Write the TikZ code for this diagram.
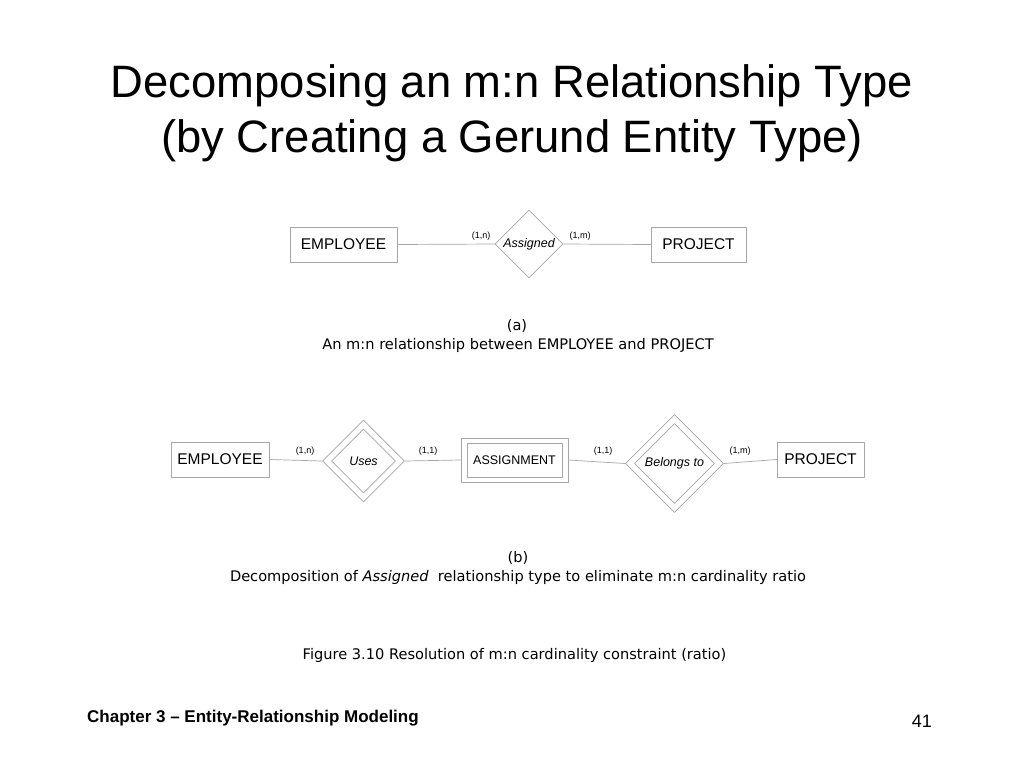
\documentclass[tikz,border=0pt]{standalone}
\usepackage{fontspec}
\setmainfont{Liberation Sans}
\newfontfamily\capfont{DejaVu Sans}
\usetikzlibrary{shapes.geometric,positioning}
\begin{document}
\begin{tikzpicture}[x=1pt, y=-1pt, line join=round, line cap=round,
  entity/.style={draw=gray!70, line width=0.7pt, minimum height=35, inner sep=0pt, font=\fontsize{15.5}{18}\selectfont},
  rel/.style={diamond, aspect=1, draw=gray!70, line width=0.7pt, inner sep=0pt, font=\fontsize{12.5}{15}\selectfont\itshape},
  card/.style={font=\fontsize{9}{11}\selectfont},
  link/.style={draw=gray!70, line width=0.7pt},
  capt/.style={anchor=base, inner sep=0pt, font=\capfont\fontsize{14.6}{17}\selectfont}]
\def\W{1024} \def\H{768}
\useasboundingbox[fill=white] (0,0) rectangle (\W,\H);
% title
\node[anchor=base, font=\fontsize{45.4}{52}\selectfont] (title1) at (512,97) {Decomposing an m:n Relationship Type};
\node[anchor=base, font=\fontsize{45.4}{52}\selectfont] (title2) at (512,152) {(by Creating a Gerund Entity Type)};
% (a)
\node[entity, minimum width=107] (emp1) at (343.5,244.5) {EMPLOYEE};
\node[rel, minimum size=68] (assigned) at (529,244) {Assigned};
\node[entity, minimum width=95] (proj1) at (698.5,244.5) {PROJECT};
\draw[link] (emp1.east)--(assigned.west) (assigned.east)--(proj1.west);
\node[card] (c1) at (481,236) {(1,n)};
\node[card] (c2) at (580,236) {(1,m)};
\node[capt] (capa) at (517,330) {(a)};
\node[capt] (capa2) at (518,349) {An m:n relationship between EMPLOYEE and PROJECT};
% (b)
\node[entity, minimum width=98] (emp2) at (220,459.5) {EMPLOYEE};
\node[rel, minimum size=82] (uses) at (363.5,461) {};
\node[rel, minimum size=64] (usesin) at (uses) {Uses};
\node[entity, minimum width=107, minimum height=44] (assign) at (514.5,460) {};
\node[entity, minimum width=95, minimum height=34, font=\fontsize{12.5}{15}\selectfont] (assignin) at (assign) {ASSIGNMENT};
\node[rel, minimum size=98] (belongs) at (674.5,463.5) {};
\node[rel, minimum size=80] (belongsin) at (belongs) {Belongs to};
\node[entity, minimum width=87] (proj2) at (820.5,459.5) {PROJECT};
\draw[link] (emp2.east)--(uses.west) (uses.east)--(assign.west)
  (assign.east)--(belongs.west) (belongs.east)--(proj2.west);
\node[card] (c3) at (305,451) {(1,n)};
\node[card] (c4) at (428,451) {(1,1)};
\node[card] (c5) at (603,451) {(1,1)};
\node[card] (c6) at (740,451) {(1,m)};
\node[capt] (capb) at (518,562) {(b)};
\node[capt] (capb2) at (518,581) {Decomposition of \textit{Assigned}\ \ relationship type to eliminate m:n cardinality ratio};
\node[capt] (fig) at (514.5,659) {Figure 3.10 Resolution of m:n cardinality constraint (ratio)};
% footer
\node[anchor=base west, inner sep=0pt, font=\fontsize{17}{20}\selectfont\bfseries] (chap) at (87,722.5) {Chapter 3 -- Entity-Relationship Modeling};
\node[anchor=base east, inner sep=0pt, font=\fontsize{18}{22}\selectfont] (page) at (932,727) {41};
\end{tikzpicture}
\end{document}
